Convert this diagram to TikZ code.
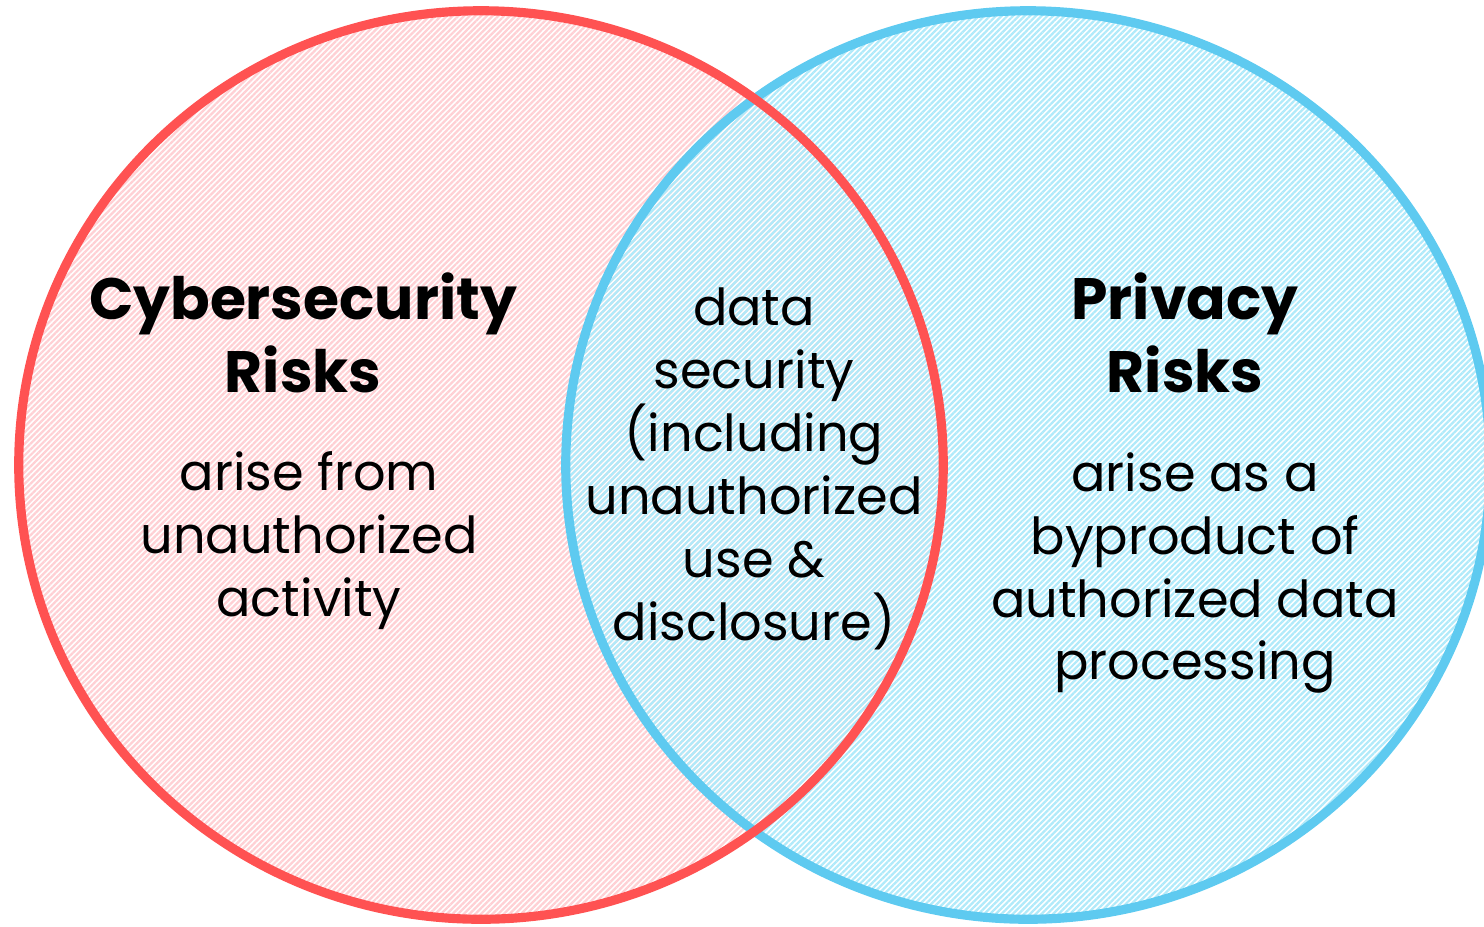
\documentclass[tikz,border=0pt]{standalone}
\usepackage{fontspec}
\setmainfont{Poppins}
\usepackage{tikz}
\usetikzlibrary{patterns.meta}
\definecolor{cyberred}{RGB}{255,82,82}
\definecolor{cyberpink}{RGB}{255,208,212}
\definecolor{privblue}{RGB}{94,202,240}
\definecolor{privcyan}{RGB}{176,234,250}
\tikzset{
  hatch/.style={pattern={Lines[angle=45,distance=1.15pt,line width=0.65pt]}},
  head/.style={align=center,font=\fontsize{16.6}{20.8}\selectfont\bfseries},
  body/.style={align=center,font=\fontsize{14.5}{17.9}\selectfont}
}
\begin{document}
\begin{tikzpicture}[x=0.01cm,y=-0.01cm]
\clip (0,0) rectangle (1484,926);
\coordinate (cyc) at (481,465);
\coordinate (prc) at (1028,465);
\fill[hatch,pattern color=cyberpink] (cyc) ellipse [x radius=4.62cm,y radius=4.54cm];
\fill[hatch,pattern color=privcyan] (prc) ellipse [x radius=4.62cm,y radius=4.54cm];
\draw[privblue,line width=2.6pt] (prc) ellipse [x radius=4.62cm,y radius=4.54cm];
\draw[cyberred,line width=2.6pt] (cyc) ellipse [x radius=4.62cm,y radius=4.54cm];
\node[head] (cyhead) at (303,333) {Cybersecurity\\Risks};
\node[body] (cybody) at (309,541) {arise from\\unauthorized\\activity};
\node[body] (overlap) at (754,469) {data\\security\\(including\\unauthorized\\use \&\\disclosure)};
\node[head] (prhead) at (1185,333) {Privacy\\Risks};
\node[body] (prbody) at (1195,573) {arise as a\\byproduct of\\authorized data\\processing};
\end{tikzpicture}
\end{document}
